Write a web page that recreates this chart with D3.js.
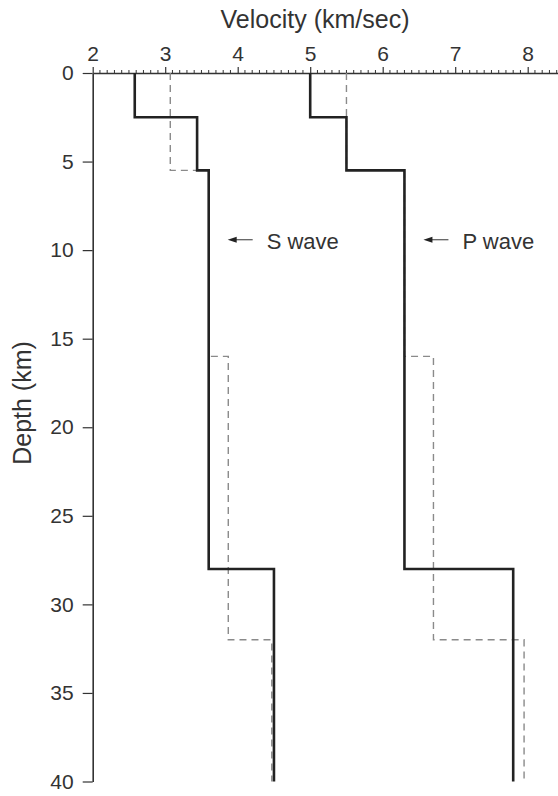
<!DOCTYPE html>
<html>
<head>
<meta charset="utf-8">
<script src="https://cdn.jsdelivr.net/npm/d3@7/dist/d3.min.js"></script>
<style>
  html, body { margin: 0; padding: 0; background: #fff; }
  svg { display: block; font-family: "Liberation Sans", Arial, Helvetica, sans-serif; }
</style>
</head>
<body>
<svg id="chart" width="558" height="796"></svg>
<script>
// ---- Data ----
const xTicks = [2, 3, 4, 5, 6, 7, 8];
const yTicks = [0, 5, 10, 15, 20, 25, 30, 35, 40];

// Solid model (layer tops/bottoms in km, velocities in km/s)
const solidTops    = [0, 2.5, 5.5, 28];
const solidBottoms = [2.5, 5.5, 28, 40];
const sSolid = [2.58, 3.44, 3.6, 4.5];
const pSolid = [5.0, 5.5, 6.3, 7.8];

// Dashed model
const dashTops    = [0, 5.5, 16, 32];
const dashBottoms = [5.5, 16, 32, 40];
const sDashed = [3.07, 3.6, 3.87, 4.47];
const pDashed = [5.5, 6.3, 6.7, 7.95];

const labels = [
  { text: "S wave", v: 3.6, depth: 9.5 },
  { text: "P wave", v: 6.3, depth: 9.5 }
];

// ---- Scales ----
const svg = d3.select("#chart");
const x = d3.scaleLinear().domain([2, 8.5]).range([92.7, 92.7 + 6.5 * 72.5]);
const y = d3.scaleLinear().domain([0, 40]).range([73, 781.5]);

const ink = "#333";

// ---- Axes ----
const xAxis = d3.axisTop(x).tickValues(xTicks).tickFormat(d3.format("d"))
  .tickSize(6).tickSizeOuter(0).tickPadding(6);
const gx = svg.append("g").attr("transform", `translate(0,${y(0)})`).call(xAxis);
gx.select(".domain").attr("stroke", ink).attr("stroke-width", 1.6);
gx.selectAll(".tick line").attr("stroke", ink).attr("stroke-width", 1.2);
gx.selectAll(".tick text").attr("font-size", 21).attr("fill", ink)
  .attr("font-family", "Liberation Sans, Arial, sans-serif");

// minor ticks every 0.1
const minor = d3.range(20, 85).map(d => d / 10).filter(d => !xTicks.includes(d));
svg.append("g").selectAll("line").data(minor).join("line")
  .attr("x1", d => x(d)).attr("x2", d => x(d))
  .attr("y1", y(0) - 3).attr("y2", y(0) + 1)
  .attr("stroke", ink).attr("stroke-width", 1);

const yAxis = d3.axisLeft(y).tickValues(yTicks).tickFormat(d3.format("d"))
  .tickSize(10).tickSizeOuter(0).tickPadding(9);
const gy = svg.append("g").attr("transform", `translate(${x(2)},0)`).call(yAxis);
gy.select(".domain").attr("stroke", ink).attr("stroke-width", 1.6);
gy.selectAll(".tick line").attr("stroke", ink).attr("stroke-width", 1.2);
gy.selectAll(".tick text").attr("font-size", 21).attr("fill", ink)
  .attr("font-family", "Liberation Sans, Arial, sans-serif");

// ---- Axis titles ----
svg.append("text").attr("x", 315).attr("y", 28).attr("text-anchor", "middle")
  .attr("font-size", 25).attr("fill", ink).text("Velocity (km/sec)");
svg.append("text").attr("transform", "translate(31,403) rotate(-90)")
  .attr("text-anchor", "middle").attr("font-size", 25).attr("fill", ink).text("Depth (km)");

// ---- Profiles ----
function stepPoints(vals, tops, bottoms) {
  const pts = [];
  vals.forEach((v, i) => { pts.push([v, tops[i]]); pts.push([v, bottoms[i]]); });
  return pts;
}
const line = d3.line().x(d => x(d[0])).y(d => y(d[1]));

[sDashed, pDashed].forEach(vals => {
  svg.append("path").datum(stepPoints(vals, dashTops, dashBottoms))
    .attr("d", line).attr("fill", "none").attr("stroke", "#8a8a8a")
    .attr("stroke-width", 1.4).attr("stroke-dasharray", "7,5");
});
[sSolid, pSolid].forEach(vals => {
  svg.append("path").datum(stepPoints(vals, solidTops, solidBottoms))
    .attr("d", line).attr("fill", "none").attr("stroke", "#222")
    .attr("stroke-width", 2.6).attr("stroke-linejoin", "miter");
});

// ---- Labels with arrows ----
labels.forEach(l => {
  const tip = x(l.v) + 19, tail = tip + 25, yy = y(l.depth) - 1.5;
  svg.append("line").attr("x1", tip + 7).attr("x2", tail).attr("y1", yy).attr("y2", yy)
    .attr("stroke", ink).attr("stroke-width", 1);
  svg.append("path").attr("d", `M${tip},${yy} L${tip + 9},${yy - 3} L${tip + 9},${yy + 3} Z`)
    .attr("fill", "#222");
  svg.append("text").attr("x", tail + 14).attr("y", yy + 9).attr("font-size", 22)
    .attr("fill", ink).text(l.text);
});
</script>
</body>
</html>
